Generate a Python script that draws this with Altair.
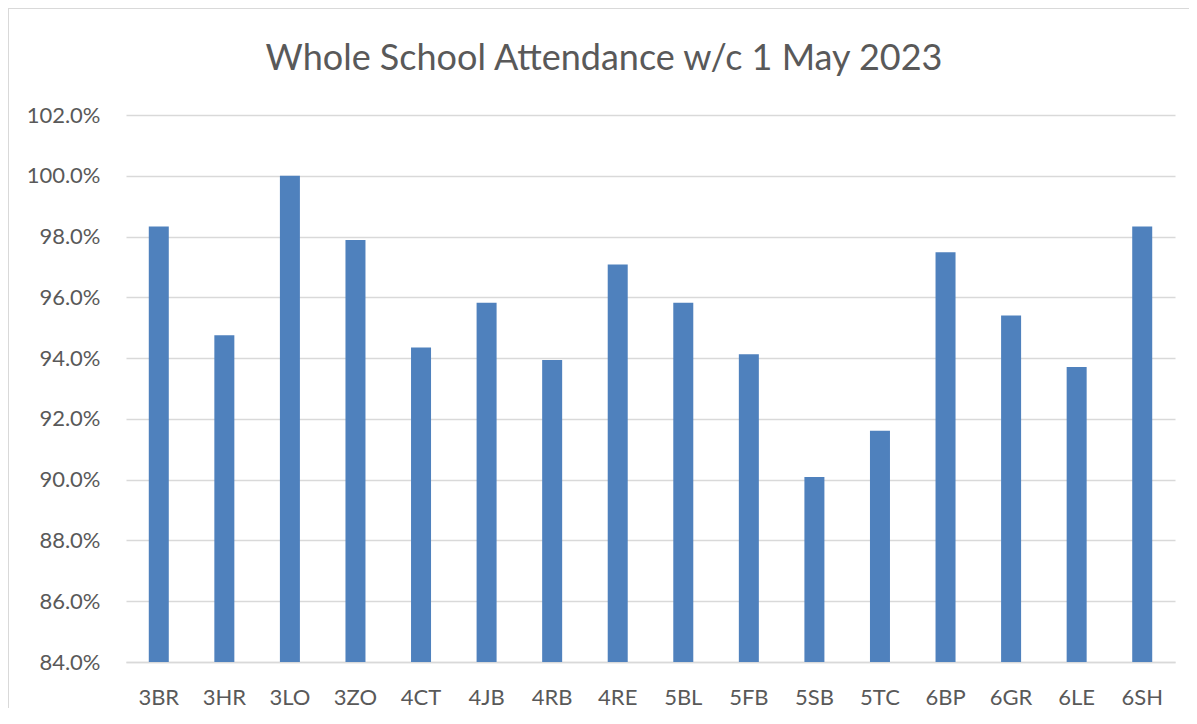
import altair as alt
import pandas as pd

classes = ["3BR", "3HR", "3LO", "3ZO", "4CT", "4JB", "4RB", "4RE",
           "5BL", "5FB", "5SB", "5TC", "6BP", "6GR", "6LE", "6SH"]
attendance_pct = [98.33, 94.75, 100.0, 97.89, 94.35, 95.82, 93.94, 97.08,
                  95.82, 94.13, 90.09, 91.61, 97.48, 95.40, 93.71, 98.33]
y_ticks = [0.84, 0.86, 0.88, 0.90, 0.92, 0.94, 0.96, 0.98, 1.00, 1.02]
title_text = "Whole School Attendance w/c 1 May 2023"

df = pd.DataFrame({"Class": classes, "Attendance": [v / 100 for v in attendance_pct]})

FONT = "Lato"
GREY = "#595959"
LINE = "#d9d9d9"

bars = alt.Chart(df).mark_bar(size=20, color="#4F81BD").encode(
    x=alt.X("Class:N", sort=classes, title=None,
            scale=alt.Scale(paddingInner=0, paddingOuter=0),
            axis=alt.Axis(labelAngle=0, ticks=False, domain=True, domainColor=LINE,
                          domainWidth=1.5, labelFont=FONT, labelFontSize=22,
                          labelColor=GREY, labelPadding=25, grid=False)),
    y=alt.Y("Attendance:Q", title=None,
            scale=alt.Scale(domain=[0.84, 1.02], zero=False, nice=False),
            axis=alt.Axis(values=y_ticks, format=".1%", ticks=False, domain=False,
                          labelFont=FONT, labelFontSize=22, labelColor=GREY,
                          labelPadding=26, gridColor=LINE, gridWidth=1.5)),
    y2=alt.datum(0.84),
)

frame = alt.Chart(pd.DataFrame({"f": [0]})).mark_rect(
    fill=None, stroke=LINE, strokeWidth=2
).encode(x=alt.value(-118), x2=alt.value(1080), y=alt.value(-107), y2=alt.value(625))

title = alt.Chart(pd.DataFrame({"t": [title_text]})).mark_text(
    font=FONT, fontSize=36, color=GREY, align="center", baseline="alphabetic"
).encode(text="t:N", x=alt.value(478), y=alt.value(-45))

chart = alt.layer(frame, title, bars).properties(
    width=1049,
    height=547,
    autosize=alt.AutoSizeParams(type="none"),
    padding={"left": 118, "top": 107, "right": 14, "bottom": 46},
    background="white",
).configure_view(stroke=None)

chart.save("out.html", embed_options={"renderer": "svg", "actions": False})
